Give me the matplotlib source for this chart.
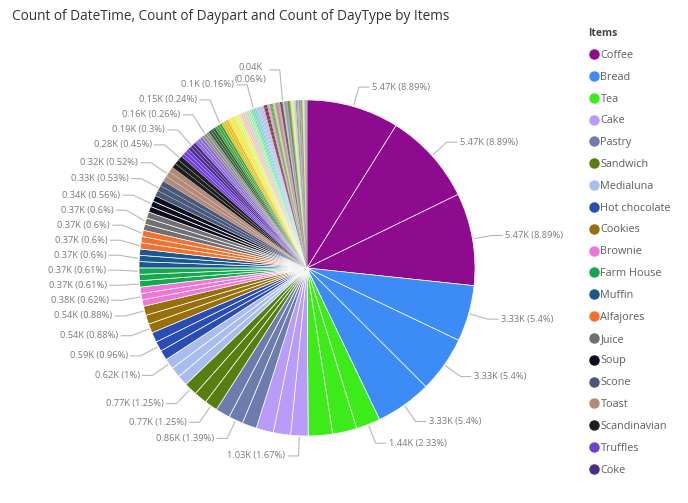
import numpy as np
import matplotlib.pyplot as plt
from matplotlib.lines import Line2D

plt.rcParams['font.family'] = ['Open Sans', 'DejaVu Sans']

# Items, ordered as in the visual (by count, descending)
items = ["Coffee", "Bread", "Tea", "Cake", "Pastry", "Sandwich", "Medialuna", "Hot chocolate",
         "Cookies", "Brownie", "Farm House", "Muffin", "Alfajores", "Juice", "Soup", "Scone",
         "Toast", "Scandinavian", "Truffles", "Coke",
         "Spanish Brunch", "Fudge", "Baguette", "Jam", "Tiffin", "Mineral water", "Jammie Dodgers",
         "Chicken Stew", "Hearty & Seasonal", "Salad", "Frittata", "Smoothies", "Keeping It Local",
         "The Nomad", "Focaccia", "Vegan mincepie", "Bakewell", "Tartine", "Afternoon with the baker",
         "Art Tray", "Extra Salami or Feta", "Eggs", "Granola", "Tshirt", "My-5 Fruit Shoot",
         "Ella's Kitchen Pouches", "Vegan Feast", "Crisps", "Dulce de Leche", "Valentine's card",
         "Kids biscuit", "Duck egg", "Pick and Mix Bowls", "Christmas common", "Tacos/Fajita",
         "Postcard", "Mighty Protein", "Gingerbread syrup", "Coffee granules",
         "Drinking chocolate spoons", "Argentina Night", "Empanadas", "Victorian Sponge",
         "Half slice Monster", "Honey", "Basket", "Bare Popcorn", "Mortimer", "Muesli",
         "Bread Pudding", "Siblings", "Panatone", "Caramel bites", "Brioche and salami",
         "Cherry me Dried fruit", "Spread", "Hack the stack", "Chimichurri Oil", "Fairy Doors",
         "Bowl Nic Pitt", "Lemon and coconut", "Raspberry shortbread sandwich", "Nomad bag",
         "Olum & polenta", "Chocolates", "Adjustment", "Polenta", "The BART", "Bacon",
         "Gift voucher", "Raw bars", "Pintxos"]

count_datetime = [5471, 3325, 1435, 1025, 856, 771, 616, 590, 540, 379, 374, 370, 369, 369, 342,
                  327, 318, 277, 193, 185,
                  172, 159, 152, 149, 146, 136, 125, 123, 107, 99, 81, 77, 63, 58, 54, 54, 48, 47,
                  44, 38, 38, 28, 28, 21, 18, 17, 16, 14, 13, 13, 12, 12, 12, 11, 11, 10,
                  11, 9, 10, 10, 10, 9, 9, 8, 8, 8, 7, 7, 6, 6, 6, 5, 4, 4, 4, 3, 3, 3, 3, 3,
                  1, 1, 1, 1, 1, 1, 1, 1, 1, 1, 1, 2]
count_daypart = list(count_datetime)
count_daytype = list(count_datetime)

top_colours = ["#8E0A8E", "#3D8BF5", "#3DEB1B", "#B89CF8", "#6C7CAC", "#567F10", "#A8BDEE",
               "#2A4DB5", "#98700A", "#F075D5", "#16A850", "#1A5890", "#F2712F", "#6F6F74",
               "#0E0E1E", "#49587A", "#B38979", "#1E1E1E", "#6E3FDA", "#4B2B8C"]
tail_colours = ["#8A6AD8", "#8C8C8C", "#2F5F2F", "#3FA23F", "#E0C020", "#F5E64A", "#DDF870",
                "#F0C0D0", "#9EF09E", "#7CD0C0", "#88C8F0", "#C4A0E0", "#5A3A2A", "#E890B0",
                "#40A080", "#D0D040", "#8080D0", "#F08080", "#303050", "#A0D060"]

# Slices that carry a data label: (item, measure index)
labelled = [("Coffee", 0), ("Coffee", 1), ("Coffee", 2), ("Bread", 0), ("Bread", 1), ("Bread", 2),
            ("Tea", 0), ("Cake", 0), ("Pastry", 1), ("Sandwich", 0), ("Sandwich", 2),
            ("Medialuna", 2), ("Hot chocolate", 1), ("Cookies", 0), ("Cookies", 2), ("Brownie", 1),
            ("Farm House", 0), ("Farm House", 2), ("Muffin", 1), ("Alfajores", 0), ("Alfajores", 2),
            ("Juice", 1), ("Soup", 1), ("Scone", 1), ("Toast", 1), ("Scandinavian", 2), ("Coke", 1),
            ("Fudge", 1), ("Jam", 2), ("Salad", 1), ("Art Tray", 0)]
wrapped = ["Art Tray"]


def fmt(v):
    # Power BI style: 2 decimals, half rounded up, trailing zeros dropped
    r = np.floor(v * 100 + 0.5 + 1e-9) / 100
    return f"{r:.2f}".rstrip("0").rstrip(".")


# Building the slices: three measures per item, next to each other
values, colours, keys = [], [], []
for i, item in enumerate(items):
    c = top_colours[i] if i < len(top_colours) else tail_colours[(i - len(top_colours)) % len(tail_colours)]
    for k, series in enumerate([count_datetime, count_daypart, count_daytype]):
        values.append(series[i])
        colours.append(c)
        keys.append((item, k))
total = sum(values)

# Setting the figure (axes in units of the pie radius, 168 px per unit)
fig = plt.figure(figsize=(6.88, 5.03), dpi=100)
ax = fig.add_axes([0, 0, 1, 1])
PX = 1 / 168
wedges, _ = ax.pie(values, colors=colours, startangle=90, counterclock=False, radius=1,
                   center=(0, 0), wedgeprops=dict(edgecolor="white", linewidth=0.5))
for w in wedges:
    span = abs(w.theta2 - w.theta1)
    w.set_linewidth(0.5 if span > 2 else (0.12 if span > 0.4 else 0))
ax.set_xlim(-307 * PX, 381 * PX)
ax.set_ylim(-235 * PX, 268 * PX)
ax.set_aspect("equal")
ax.axis("off")

# Data labels with leader lines
lab = []
for item, k in labelled:
    idx = keys.index((item, k))
    w = wedges[idx]
    a = np.deg2rad((w.theta1 + w.theta2) / 2)
    v = values[idx]
    txt = fmt(v / 1000) + "K" + ("\n" if item in wrapped else " ") + "(" + fmt(100 * v / total) + "%)"
    lab.append(dict(a=a, bx=1.12 * np.cos(a), by=1.12 * np.sin(a), txt=txt, wrap=item in wrapped))

gap = 15 * PX
for side in [1, -1]:
    group = sorted([l for l in lab if np.sign(l["bx"]) == side], key=lambda l: l["by"])
    for i, l in enumerate(group):
        l["y"] = l["by"] if i == 0 else max(l["by"], group[i - 1]["y"] + gap)

for l in lab:
    side = 1 if l["bx"] >= 0 else -1
    ex, ey = 1.01 * np.cos(l["a"]), 1.01 * np.sin(l["a"])
    hx = l["bx"] + side * 10 * PX
    ax.plot([ex, l["bx"], hx], [ey, l["y"], l["y"]], color="#B8B8B8", linewidth=0.8)
    if l["wrap"]:
        ax.text(hx + side * 3 * PX, l["y"] + 7 * PX, l["txt"], ha="right" if side < 0 else "left",
                va="top", multialignment="center", fontsize=6.7, color="#7A7A7A", linespacing=1.4)
    else:
        ax.text(hx + side * 3 * PX, l["y"], l["txt"], ha="right" if side < 0 else "left",
                va="center", fontsize=6.7, color="#7A7A7A")

# Title
fig.text(12 / 688, 1 - 17 / 503, "Count of DateTime, Count of Daypart and Count of DayType by Items",
         fontsize=9.8, color="#333333", va="center", ha="left")

# Legend (first 20 items, as visible in the visual)
handles = [Line2D([], [], marker="o", linestyle="", color=top_colours[i], markersize=6.5)
           for i in range(len(top_colours))]
leg = fig.legend(handles, items[:len(top_colours)], title="Items", loc="upper left",
                 bbox_to_anchor=(588 / 688, 1 - 28 / 503), frameon=False, fontsize=7.8,
                 handletextpad=0.05, handlelength=1.1, labelspacing=1.0, borderaxespad=0,
                 borderpad=0, alignment="left", labelcolor="#605E5C",
                 title_fontproperties={"weight": "bold", "size": 7.5})
leg.get_title().set_color("#444444")

plt.savefig("out.png", dpi=100)
